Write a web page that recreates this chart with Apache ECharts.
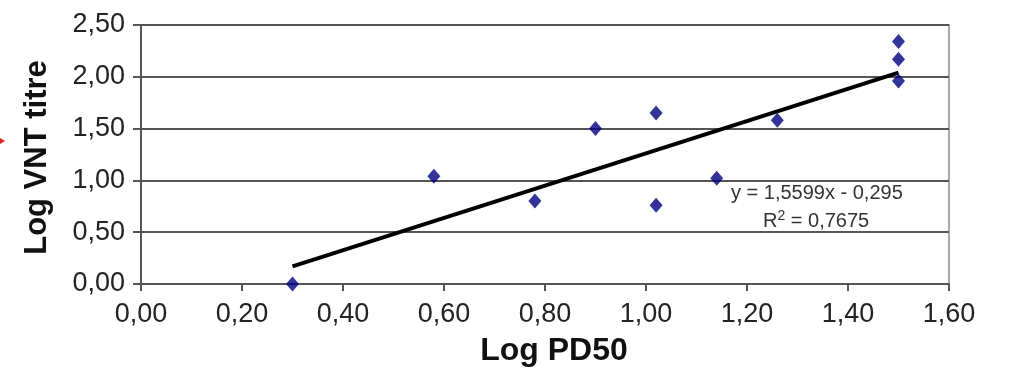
<!DOCTYPE html>
<html>
<head>
<meta charset="utf-8">
<script src="https://cdn.jsdelivr.net/npm/echarts@6/dist/echarts.min.js"></script>
<style>
  html, body { margin: 0; padding: 0; background: #fff; }
  #chart { width: 1015px; height: 372px; }
</style>
</head>
<body>
<div id="chart"></div>
<script>
// points
const logPD50 = [0.30, 0.58, 0.78, 0.90, 1.02, 1.02, 1.14, 1.26, 1.50, 1.50, 1.50];
const logVNT = [0.00, 1.04, 0.80, 1.50, 1.65, 0.76, 1.02, 1.58, 2.34, 2.17, 1.96];

// trend line end points (y = 1,5599x - 0,295)
const trendX = [0.30, 1.50];
const trendY = [0.17, 2.04];

const equationText = 'y = 1,5599x - 0,295';
const r2Value = '0,7675';

const fontFamily = '"Liberation Sans", Arial, sans-serif';
const fmt = (v) => v.toFixed(2).replace('.', ',');

const chart = echarts.init(document.getElementById('chart'));

chart.setOption({
  animation: false,
  backgroundColor: '#fff',
  grid: {
    left: 141,
    right: 66,
    top: 25,
    bottom: 88,
    show: true,
    borderColor: '#a8a8a8',
    borderWidth: 2,
  },
  xAxis: {
    type: 'value',
    min: 0,
    max: 1.6,
    interval: 0.2,
    name: 'Log PD50',
    nameLocation: 'middle',
    nameGap: 51,
    nameTextStyle: {
      fontFamily,
      fontSize: 32,
      fontWeight: 'bold',
      color: '#111',
      padding: [0, 0, 0, 18],
    },
    axisLine: { show: true, lineStyle: { color: '#555', width: 2 } },
    axisTick: { show: true, inside: false, length: 7, lineStyle: { color: '#555', width: 2 } },
    axisLabel: {
      margin: 17,
      fontFamily,
      fontSize: 27,
      color: '#222',
      formatter: fmt,
    },
    splitLine: { show: false },
  },
  yAxis: {
    type: 'value',
    min: 0,
    max: 2.5,
    interval: 0.5,
    name: 'Log VNT titre',
    nameLocation: 'middle',
    nameGap: 88,
    nameTextStyle: {
      fontFamily,
      fontSize: 31,
      fontWeight: 'bold',
      color: '#111',
      padding: [0, 6, 0, 0],
    },
    axisLine: { show: true, lineStyle: { color: '#555', width: 2 } },
    axisTick: { show: true, inside: false, length: 8, lineStyle: { color: '#555', width: 2 } },
    axisLabel: {
      margin: 16,
      fontFamily,
      fontSize: 27,
      color: '#222',
      formatter: fmt,
    },
    splitLine: { show: true, lineStyle: { color: '#555', width: 2 } },
  },
  series: [
    {
      type: 'line',
      data: trendX.map((x, i) => [x, trendY[i]]),
      symbol: 'none',
      lineStyle: { color: '#000', width: 4 },
      z: 2,
    },
    {
      type: 'scatter',
      data: logPD50.map((x, i) => [x, logVNT[i]]),
      symbol: 'diamond',
      symbolSize: [13, 15],
      itemStyle: { color: '#000080' },
      z: 3,
    },
  ],
  graphic: [
    {
      type: 'text',
      left: 731,
      top: 183,
      style: {
        text: equationText,
        fontFamily,
        fontSize: 20,
        fill: '#333',
      },
    },
    {
      type: 'text',
      left: 763,
      top: 209,
      style: {
        text: 'R{sup|2} = ' + r2Value,
        fontFamily,
        fontSize: 20,
        fill: '#333',
        rich: {
          sup: { fontFamily, fontSize: 14, fill: '#333', verticalAlign: 'top', padding: [0, 0, 10, 0] },
        },
      },
    },
    {
      // small red arrow tip at the left edge
      type: 'polygon',
      shape: { points: [[0, 138], [5, 141], [0, 144]] },
      style: { fill: '#e02020' },
    },
  ],
});
</script>
</body>
</html>
